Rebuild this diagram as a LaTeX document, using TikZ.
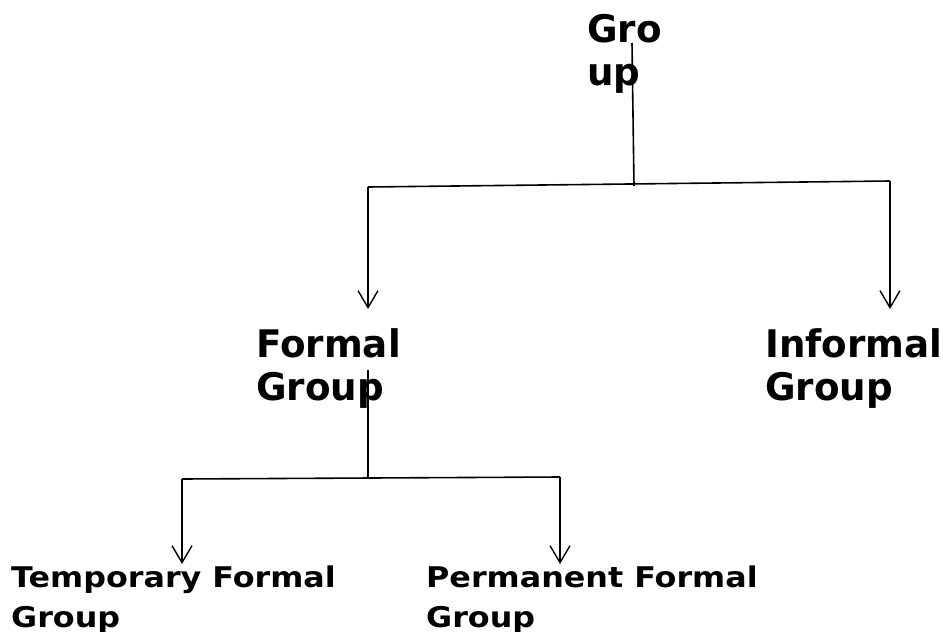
\documentclass[tikz,border=0pt]{standalone}
\usepackage{fontspec}
\setmainfont{DejaVu Sans}
\newfontfamily\topfont[FakeStretch=0.98]{DejaVu Sans}
\newfontfamily\botfont[FakeStretch=1.115]{DejaVu Sans}
\usetikzlibrary{arrows.meta}
\begin{document}
\begin{tikzpicture}[x=1pt,y=1pt,
  toplabel/.style={anchor=base west,inner sep=0pt,align=left,
    font=\topfont\bfseries\fontsize{38}{43}\selectfont},
  botlabel/.style={anchor=base west,inner sep=0pt,align=left,
    font=\botfont\bfseries\fontsize{28.5}{40}\selectfont},
  conn/.style={line width=1.6pt,black},
  arr/.style={conn,-{Straight Barb[length=17pt,width=20pt,line width=1.4pt]}}]
\useasboundingbox (0,0) rectangle (943,-632);
% labels (base = baseline of last line)
\node[toplabel] (grp) at (587,-85) {Gro\\up};
\node[toplabel] (formal) at (256,-400) {Formal\\Group};
\node[toplabel] (informal) at (765,-400) {Informal\\Group};
\node[botlabel] (temp) at (11,-627) {Temporary Formal\\Group};
\node[botlabel] (perm) at (426,-627) {Permanent Formal\\Group};
% junction points
\coordinate (g0) at (632,-43);
\coordinate (g1) at (634,-186);
\coordinate (hl) at (368,-187);
\coordinate (hr) at (890,-181);
\coordinate (ftip) at (368,-309);
\coordinate (itip) at (890,-309);
\coordinate (f0) at (368,-370);
\coordinate (f1) at (368,-478);
\coordinate (bl) at (182,-479);
\coordinate (br) at (560,-477);
\coordinate (ttip) at (182,-564);
\coordinate (ptip) at (560,-564);
% connectors
\draw[conn] (g0) -- (g1);
\draw[conn] (hl) -- (hr);
\draw[arr] (hl) -- (ftip);
\draw[arr] (hr) -- (itip);
\draw[conn] (f0) -- (f1);
\draw[conn] (bl) -- (br);
\draw[arr] (bl) -- (ttip);
\draw[arr] (br) -- (ptip);
\end{tikzpicture}
\end{document}
